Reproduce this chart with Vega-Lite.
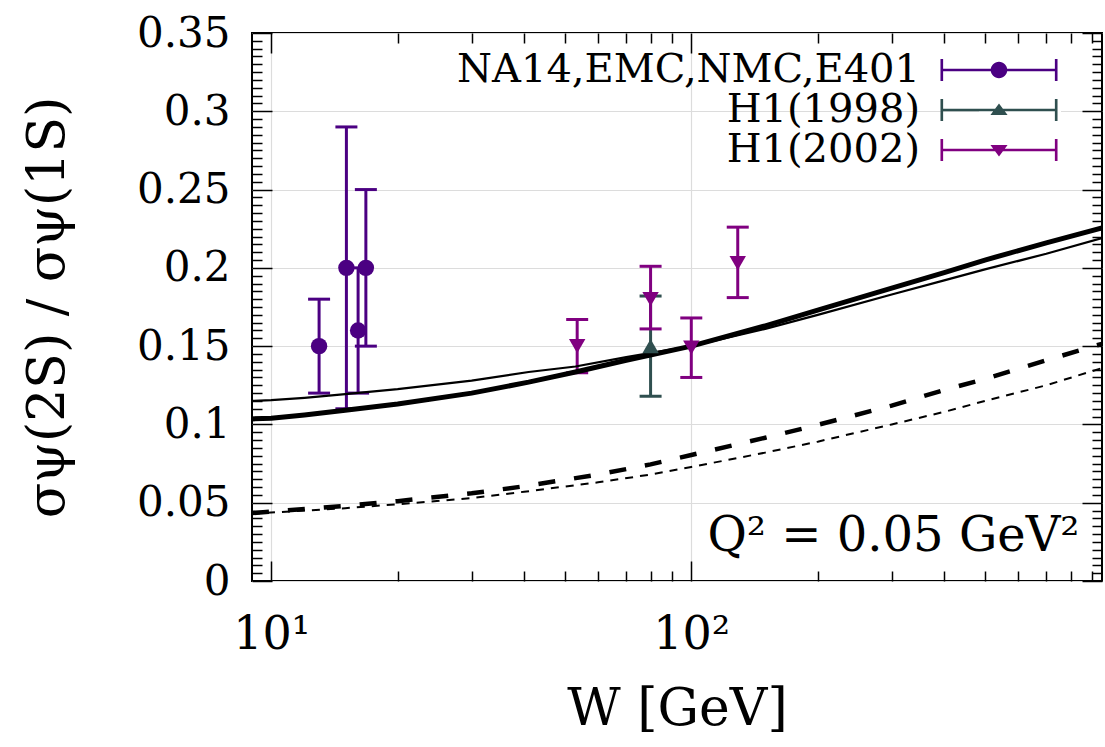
{
  "$schema": "https://vega.github.io/schema/vega-lite/v6.json",
  "width": 850,
  "height": 548,
  "autosize": {"type": "none"},
  "padding": {"left": 252, "top": 33, "right": 3, "bottom": 166},
  "background": "white",
  "config": {
    "view": {"stroke": "black", "strokeWidth": 2},
    "font": "DejaVu Serif",
    "text": {"font": "DejaVu Serif"},
    "axis": {"labelFont": "DejaVu Serif", "titleFont": "DejaVu Serif"},
    "legend": {"labelFont": "DejaVu Serif"}
  },
  "datasets": {
    "curves": [
      {"W": 9, "v": 0.115, "c": "thin"}, {"W": 10, "v": 0.1155, "c": "thin"}, {"W": 12, "v": 0.117, "c": "thin"}, {"W": 15, "v": 0.1194, "c": "thin"}, {"W": 20, "v": 0.1225, "c": "thin"}, {"W": 30, "v": 0.128, "c": "thin"}, {"W": 41, "v": 0.1335, "c": "thin"}, {"W": 53, "v": 0.137, "c": "thin"}, {"W": 70, "v": 0.143, "c": "thin"}, {"W": 100, "v": 0.150, "c": "thin"}, {"W": 150, "v": 0.161, "c": "thin"}, {"W": 200, "v": 0.170, "c": "thin"}, {"W": 300, "v": 0.183, "c": "thin"}, {"W": 400, "v": 0.192, "c": "thin"}, {"W": 500, "v": 0.199, "c": "thin"}, {"W": 700, "v": 0.209, "c": "thin"}, {"W": 950, "v": 0.219, "c": "thin"},
      {"W": 9, "v": 0.1035, "c": "thick"}, {"W": 10, "v": 0.104, "c": "thick"}, {"W": 12, "v": 0.106, "c": "thick"}, {"W": 15, "v": 0.109, "c": "thick"}, {"W": 20, "v": 0.113, "c": "thick"}, {"W": 30, "v": 0.120, "c": "thick"}, {"W": 41, "v": 0.127, "c": "thick"}, {"W": 53, "v": 0.1335, "c": "thick"}, {"W": 70, "v": 0.141, "c": "thick"}, {"W": 100, "v": 0.150, "c": "thick"}, {"W": 150, "v": 0.163, "c": "thick"}, {"W": 200, "v": 0.173, "c": "thick"}, {"W": 300, "v": 0.187, "c": "thick"}, {"W": 400, "v": 0.197, "c": "thick"}, {"W": 500, "v": 0.205, "c": "thick"}, {"W": 700, "v": 0.216, "c": "thick"}, {"W": 950, "v": 0.2255, "c": "thick"},
      {"W": 9, "v": 0.0434, "c": "dthick"}, {"W": 15, "v": 0.048, "c": "dthick"}, {"W": 20, "v": 0.051, "c": "dthick"}, {"W": 30, "v": 0.056, "c": "dthick"}, {"W": 40, "v": 0.0605, "c": "dthick"}, {"W": 60, "v": 0.068, "c": "dthick"}, {"W": 80, "v": 0.0745, "c": "dthick"}, {"W": 100, "v": 0.0805, "c": "dthick"}, {"W": 150, "v": 0.0915, "c": "dthick"}, {"W": 200, "v": 0.0997, "c": "dthick"}, {"W": 300, "v": 0.112, "c": "dthick"}, {"W": 400, "v": 0.122, "c": "dthick"}, {"W": 500, "v": 0.129, "c": "dthick"}, {"W": 700, "v": 0.141, "c": "dthick"}, {"W": 950, "v": 0.1515, "c": "dthick"},
      {"W": 9, "v": 0.043, "c": "dthin"}, {"W": 15, "v": 0.0465, "c": "dthin"}, {"W": 20, "v": 0.049, "c": "dthin"}, {"W": 30, "v": 0.053, "c": "dthin"}, {"W": 40, "v": 0.057, "c": "dthin"}, {"W": 60, "v": 0.063, "c": "dthin"}, {"W": 80, "v": 0.068, "c": "dthin"}, {"W": 100, "v": 0.0728, "c": "dthin"}, {"W": 150, "v": 0.082, "c": "dthin"}, {"W": 200, "v": 0.089, "c": "dthin"}, {"W": 300, "v": 0.100, "c": "dthin"}, {"W": 400, "v": 0.108, "c": "dthin"}, {"W": 500, "v": 0.115, "c": "dthin"}, {"W": 700, "v": 0.125, "c": "dthin"}, {"W": 950, "v": 0.136, "c": "dthin"}
    ],
    "points": [
      {"series": "NA14,EMC,NMC,E401", "W": 13.0, "v": 0.15, "lo": 0.12, "hi": 0.18},
      {"series": "NA14,EMC,NMC,E401", "W": 15.1, "v": 0.20, "lo": 0.11, "hi": 0.29},
      {"series": "NA14,EMC,NMC,E401", "W": 16.1, "v": 0.16, "lo": 0.12, "hi": 0.20},
      {"series": "NA14,EMC,NMC,E401", "W": 16.8, "v": 0.20, "lo": 0.15, "hi": 0.25},
      {"series": "H1(1998)", "W": 80, "v": 0.15, "lo": 0.118, "hi": 0.182},
      {"series": "H1(2002)", "W": 53.5, "v": 0.15, "lo": 0.133, "hi": 0.167},
      {"series": "H1(2002)", "W": 80, "v": 0.18, "lo": 0.161, "hi": 0.201},
      {"series": "H1(2002)", "W": 100, "v": 0.149, "lo": 0.130, "hi": 0.168},
      {"series": "H1(2002)", "W": 129, "v": 0.203, "lo": 0.181, "hi": 0.226}
    ]
  },
  "resolve": {"axis": {"x": "independent", "y": "independent"}},
  "layer": [
    {
      "data": {"name": "points"},
      "mark": {"type": "rule", "strokeWidth": 3},
      "encoding": {
        "x": {"field": "W", "type": "quantitative", "scale": {"type": "log", "domain": [9, 950], "nice": false},
          "axis": {
            "orient": "bottom",
            "values": [10, 20, 30, 40, 50, 60, 70, 80, 90, 100, 200, 300, 400, 500, 600, 700, 800, 900],
            "ticks": true,
            "tickSize": {"condition": {"test": "datum.value == 10 || datum.value == 100", "value": -20}, "value": -10},
            "tickColor": "black", "tickWidth": 1.5,
            "domain": false,
            "labelExpr": "datum.value == 10 ? '10¹' : (datum.value == 100 ? '10²' : '')",
            "labelFont": "DejaVu Serif", "labelFontSize": 46, "labelColor": "black", "labelPadding": 51,
            "labelOverlap": false, "labelFlush": false, "labelBound": false,
            "grid": true, "gridColor": "#dcdcdc", "gridWidth": 1.2,
            "gridOpacity": {"condition": {"test": "datum.value == 10 || datum.value == 100", "value": 1}, "value": 0},
            "title": "W  [GeV]", "titleFont": "DejaVu Serif", "titleFontSize": 52, "titleFontWeight": "normal", "titleColor": "black", "titlePadding": 16
          }
        },
        "y": {"field": "lo", "type": "quantitative", "scale": {"domain": [0, 0.35], "nice": false},
          "axis": {
            "orient": "left",
            "values": [0,0.005,0.01,0.015,0.02,0.025,0.03,0.035,0.04,0.045,0.05,0.055,0.06,0.065,0.07,0.075,0.08,0.085,0.09,0.095,0.1,0.105,0.11,0.115,0.12,0.125,0.13,0.135,0.14,0.145,0.15,0.155,0.16,0.165,0.17,0.175,0.18,0.185,0.19,0.195,0.2,0.205,0.21,0.215,0.22,0.225,0.23,0.235,0.24,0.245,0.25,0.255,0.26,0.265,0.27,0.275,0.28,0.285,0.29,0.295,0.3,0.305,0.31,0.315,0.32,0.325,0.33,0.335,0.34,0.345,0.35],
            "ticks": true,
            "tickSize": {"condition": {"test": "abs(datum.value*20 - round(datum.value*20)) < 0.01", "value": -20}, "value": -10},
            "tickColor": "black", "tickWidth": 1.5,
            "domain": false,
            "labelExpr": "abs(datum.value*20 - round(datum.value*20)) < 0.01 ? format(datum.value, '.2~f') : ''",
            "labelFont": "DejaVu Serif", "labelFontSize": 42, "labelColor": "black", "labelPadding": 42,
            "labelOverlap": false, "labelFlush": false, "labelBound": false,
            "grid": true, "gridColor": "#dcdcdc", "gridWidth": 1.2,
            "gridOpacity": {"condition": {"test": "abs(datum.value*20 - round(datum.value*20)) < 0.01", "value": 1}, "value": 0},
            "title": "σψ(2S) / σψ(1S)", "titleFont": "DejaVu Serif", "titleFontSize": 52, "titleFontWeight": "normal", "titleColor": "black", "titlePadding": 62
          }
        },
        "y2": {"field": "hi"},
        "stroke": {"field": "series", "type": "nominal", "scale": {"domain": ["H1(2002)", "H1(1998)", "NA14,EMC,NMC,E401"], "range": ["#800080", "#2F4F4F", "#4B0082"]}, "legend": null}
      }
    },
    {
      "data": {"name": "points"},
      "mark": {"type": "point", "shape": "M-1,0H1", "filled": false, "size": 484, "strokeWidth": 3, "opacity": 1},
      "encoding": {
        "x": {"field": "W", "type": "quantitative", "scale": {"type": "log", "domain": [9, 950], "nice": false},
          "axis": {
            "orient": "top",
            "values": [10, 20, 30, 40, 50, 60, 70, 80, 90, 100, 200, 300, 400, 500, 600, 700, 800, 900],
            "ticks": true,
            "tickSize": {"condition": {"test": "datum.value == 10 || datum.value == 100", "value": -20}, "value": -10},
            "tickColor": "black", "tickWidth": 1.5,
            "domain": false, "labels": false, "grid": false, "title": null
          }
        },
        "y": {"field": "lo", "type": "quantitative", "scale": {"domain": [0, 0.35], "nice": false},
          "axis": {
            "orient": "right",
            "values": [0,0.005,0.01,0.015,0.02,0.025,0.03,0.035,0.04,0.045,0.05,0.055,0.06,0.065,0.07,0.075,0.08,0.085,0.09,0.095,0.1,0.105,0.11,0.115,0.12,0.125,0.13,0.135,0.14,0.145,0.15,0.155,0.16,0.165,0.17,0.175,0.18,0.185,0.19,0.195,0.2,0.205,0.21,0.215,0.22,0.225,0.23,0.235,0.24,0.245,0.25,0.255,0.26,0.265,0.27,0.275,0.28,0.285,0.29,0.295,0.3,0.305,0.31,0.315,0.32,0.325,0.33,0.335,0.34,0.345,0.35],
            "ticks": true,
            "tickSize": {"condition": {"test": "abs(datum.value*20 - round(datum.value*20)) < 0.01", "value": -20}, "value": -10},
            "tickColor": "black", "tickWidth": 1.5,
            "domain": false, "labels": false, "grid": false, "title": null
          }
        },
        "stroke": {"field": "series", "type": "nominal", "scale": {"domain": ["H1(2002)", "H1(1998)", "NA14,EMC,NMC,E401"], "range": ["#800080", "#2F4F4F", "#4B0082"]}, "legend": null}
      }
    },
    {
      "data": {"name": "points"},
      "mark": {"type": "point", "shape": "M-1,0H1", "filled": false, "size": 484, "strokeWidth": 3, "opacity": 1},
      "encoding": {
        "x": {"field": "W", "type": "quantitative", "scale": {"type": "log", "domain": [9, 950], "nice": false}, "axis": null},
        "y": {"field": "hi", "type": "quantitative", "scale": {"domain": [0, 0.35], "nice": false}, "axis": null},
        "stroke": {"field": "series", "type": "nominal", "scale": {"domain": ["H1(2002)", "H1(1998)", "NA14,EMC,NMC,E401"], "range": ["#800080", "#2F4F4F", "#4B0082"]}, "legend": null}
      }
    },
    {
      "data": {"name": "curves"},
      "transform": [{"filter": "datum.c == 'thin'"}],
      "mark": {"type": "line", "color": "black", "strokeWidth": 2.2, "clip": true},
      "encoding": {
        "x": {"field": "W", "type": "quantitative", "scale": {"type": "log", "domain": [9, 950], "nice": false}, "axis": null},
        "y": {"field": "v", "type": "quantitative", "scale": {"domain": [0, 0.35], "nice": false}, "axis": null}
      }
    },
    {
      "data": {"name": "curves"},
      "transform": [{"filter": "datum.c == 'thick'"}],
      "mark": {"type": "line", "color": "black", "strokeWidth": 5, "clip": true},
      "encoding": {
        "x": {"field": "W", "type": "quantitative", "scale": {"type": "log", "domain": [9, 950], "nice": false}, "axis": null},
        "y": {"field": "v", "type": "quantitative", "scale": {"domain": [0, 0.35], "nice": false}, "axis": null}
      }
    },
    {
      "data": {"name": "curves"},
      "transform": [{"filter": "datum.c == 'dthick'"}],
      "mark": {"type": "line", "color": "black", "strokeWidth": 4.5, "strokeDash": [17, 19], "clip": true},
      "encoding": {
        "x": {"field": "W", "type": "quantitative", "scale": {"type": "log", "domain": [9, 950], "nice": false}, "axis": null},
        "y": {"field": "v", "type": "quantitative", "scale": {"domain": [0, 0.35], "nice": false}, "axis": null}
      }
    },
    {
      "data": {"name": "curves"},
      "transform": [{"filter": "datum.c == 'dthin'"}],
      "mark": {"type": "line", "color": "black", "strokeWidth": 2, "strokeDash": [8, 7], "clip": true},
      "encoding": {
        "x": {"field": "W", "type": "quantitative", "scale": {"type": "log", "domain": [9, 950], "nice": false}, "axis": null},
        "y": {"field": "v", "type": "quantitative", "scale": {"domain": [0, 0.35], "nice": false}, "axis": null}
      }
    },
    {
      "data": {"name": "points"},
      "transform": [{"filter": "datum.series == 'NA14,EMC,NMC,E401'"}],
      "mark": {"type": "point", "filled": true, "shape": "circle", "size": 270, "opacity": 1, "color": "#4B0082"},
      "encoding": {
        "x": {"field": "W", "type": "quantitative", "scale": {"type": "log", "domain": [9, 950], "nice": false}, "axis": null},
        "y": {"field": "v", "type": "quantitative", "scale": {"domain": [0, 0.35], "nice": false}, "axis": null}
      }
    },
    {
      "data": {"name": "points"},
      "transform": [{"filter": "datum.series == 'H1(1998)'"}],
      "mark": {"type": "point", "filled": true, "shape": "triangle-up", "size": 270, "opacity": 1, "color": "#2F4F4F"},
      "encoding": {
        "x": {"field": "W", "type": "quantitative", "scale": {"type": "log", "domain": [9, 950], "nice": false}, "axis": null},
        "y": {"field": "v", "type": "quantitative", "scale": {"domain": [0, 0.35], "nice": false}, "axis": null}
      }
    },
    {
      "data": {"name": "points"},
      "transform": [{"filter": "datum.series == 'H1(2002)'"}],
      "mark": {"type": "point", "filled": true, "shape": "triangle-down", "size": 270, "opacity": 1, "color": "#800080"},
      "encoding": {
        "x": {"field": "W", "type": "quantitative", "scale": {"type": "log", "domain": [9, 950], "nice": false}, "axis": null},
        "y": {"field": "v", "type": "quantitative", "scale": {"domain": [0, 0.35], "nice": false}, "axis": null}
      }
    },
    {
      "data": {"name": "points"},
      "transform": [{"filter": "datum.W < 0"}],
      "mark": {"type": "point", "filled": true, "size": 484, "opacity": 1},
      "encoding": {
        "x": {"field": "W", "type": "quantitative", "scale": {"type": "log", "domain": [9, 950], "nice": false}, "axis": null},
        "y": {"field": "v", "type": "quantitative", "scale": {"domain": [0, 0.35], "nice": false}, "axis": null},
        "shape": {"field": "series", "type": "nominal", "scale": {"domain": ["NA14,EMC,NMC,E401", "H1(1998)", "H1(2002)"],
          "range": [
            "M-5.2,-0.11H5.2V0.11H-5.2ZM-5.32,-1H-5.08V1H-5.32ZM5.08,-1H5.32V1H5.08ZM0.75,0A0.75,0.75 0 1 1 -0.75,0A0.75,0.75 0 1 1 0.75,0Z",
            "M-5.2,-0.11H5.2V0.11H-5.2ZM-5.32,-1H-5.08V1H-5.32ZM5.08,-1H5.32V1H5.08ZM0,-0.6L0.78,0.45L-0.78,0.45Z",
            "M-5.2,-0.11H5.2V0.11H-5.2ZM-5.32,-1H-5.08V1H-5.32ZM5.08,-1H5.32V1H5.08ZM0,0.6L-0.78,-0.45L0.78,-0.45Z"
          ]}},
        "color": {"field": "series", "type": "nominal", "scale": {"domain": ["NA14,EMC,NMC,E401", "H1(1998)", "H1(2002)"], "range": ["#4B0082", "#2F4F4F", "#800080"]},
          "legend": {
            "orient": "none", "legendX": 727, "legendY": 17, "title": null,
            "direction": "vertical", "columns": 1,
            "labelFont": "DejaVu Serif", "labelFontSize": 40, "labelColor": "black", "labelLimit": 800,
            "labelAlign": "right", "labelOffset": -99,
            "symbolSize": 484, "symbolOpacity": 1,
            "rowPadding": -3, "padding": 0,
            "fillColor": "white"
          }
        }
      }
    },
    {
      "data": {"values": [{}]},
      "mark": {"type": "text", "align": "right", "baseline": "middle", "font": "DejaVu Serif", "fontSize": 48, "color": "black", "text": "Q²  =  0.05  GeV²"},
      "encoding": {
        "x": {"datum": 840, "type": "quantitative", "scale": {"type": "log", "domain": [9, 950], "nice": false}, "axis": null},
        "y": {"datum": 0.028, "type": "quantitative", "scale": {"domain": [0, 0.35], "nice": false}, "axis": null}
      }
    }
  ]
}
